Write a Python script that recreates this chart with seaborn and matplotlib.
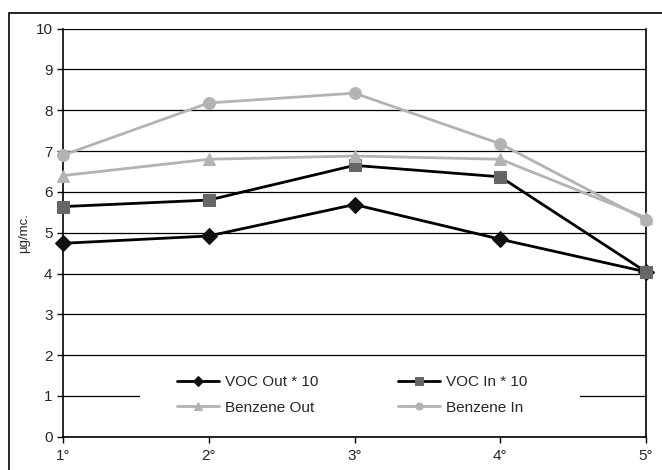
import matplotlib
matplotlib.use("Agg")
import matplotlib.pyplot as plt
import matplotlib.patches as mpatches
import pandas as pd
import seaborn as sns

# Data
stations = [1, 2, 3, 4, 5]
station_labels = ["1°", "2°", "3°", "4°", "5°"]
voc_out = [4.74, 4.92, 5.69, 4.84, 4.04]
voc_in = [5.64, 5.80, 6.65, 6.37, 4.04]
benzene_out = [6.40, 6.80, 6.88, 6.80, 5.37]
benzene_in = [6.90, 8.18, 8.42, 7.18, 5.31]

sns.set_style("white")
plt.rcParams["font.family"] = ["Liberation Sans", "DejaVu Sans"]

fig = plt.figure(figsize=(6.62, 4.70), dpi=100)
ax = fig.add_axes([63 / 662, 1 - 436.7 / 470, (646 - 63) / 662, (436.7 - 28.7) / 470])

series = [
    ("VOC Out * 10", voc_out, "D", "#000000", "#111111"),
    ("VOC In * 10", voc_in, "s", "#000000", "#666666"),
    ("Benzene Out", benzene_out, "^", "#b3b3b3", "#b3b3b3"),
    ("Benzene In", benzene_in, "o", "#b3b3b3", "#b3b3b3"),
]

for name, vals, mk, lc, mc in series:
    df = pd.DataFrame({"station": stations, "value": vals})
    sns.lineplot(data=df, x="station", y="value", ax=ax, color=lc, lw=2.0,
                 marker=mk, markersize=8.5, markerfacecolor=mc,
                 markeredgecolor=mc, label=name, zorder=3, clip_on=False)

ax.set_xlim(1, 5)
ax.set_ylim(0, 10)
ax.set_xticks(stations)
ax.set_xticklabels(station_labels)
ax.set_yticks(range(0, 11))
ax.set_xlabel("")
ax.set_ylabel("µg/mc.", fontsize=9.5, labelpad=4)
ax.tick_params(axis="both", labelsize=11, length=4, width=1, color="black",
               direction="out", bottom=True, left=True)
ax.tick_params(axis="x", pad=5)

ax.set_axisbelow(True)
ax.yaxis.grid(True, color="black", lw=0.9)
for side in ["left", "bottom", "right"]:
    ax.spines[side].set_color("black")
    ax.spines[side].set_linewidth(1.2)
ax.spines["top"].set_visible(False)

# white box behind the legend hides the gridline
ax.add_patch(mpatches.Rectangle((0.132, 0.029), 0.755, 0.147,
                                transform=ax.transAxes, facecolor="white",
                                edgecolor="none", zorder=2))

# row-major order: VOC Out, VOC In / Benzene Out, Benzene In
handles, labels = ax.get_legend_handles_labels()
order = [0, 2, 1, 3]
leg = ax.legend([handles[i] for i in order], [labels[i] for i in order],
                loc="center left", bbox_to_anchor=(0.195, 0.102), ncol=2,
                frameon=False, fontsize=11, handlelength=2.8,
                handletextpad=0.35, columnspacing=5.2, labelspacing=0.75,
                markerscale=0.6, borderpad=0, borderaxespad=0)
leg.set_zorder(4)

# outer chart border (only top and left visible)
fig.patches.append(mpatches.Rectangle((9 / 662, -0.1), 1.2, 1 - 13 / 470 + 0.1,
                                      transform=fig.transFigure, fill=False,
                                      edgecolor="black", lw=1.2))

fig.savefig("out.png", dpi=100)
